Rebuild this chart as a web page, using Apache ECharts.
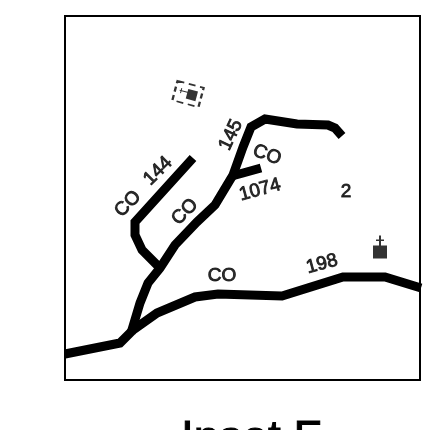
<!DOCTYPE html>
<html><head><meta charset="utf-8">
<style>html,body{margin:0;padding:0;background:#fff;overflow:hidden}#c{width:433px;height:430px}</style>
<script src="https://cdn.jsdelivr.net/npm/echarts@6/dist/echarts.min.js"></script>
</head><body><div id="c"></div>
<script>
// map coordinates: x east, y north, origin at lower-left of inset frame
const mainRoad198 = [[0,26],[55,37],[68,50],[92,67],[130,83],[153,86],[217,84],[278,103],[320,103],[356,92]];
const road145 = [[66,47],[75,77],[83,97],[95,112],[110,135],[132,158],[150,175],[168,205],[178,233],[186,253],[200,261],[232,256],[263,255],[270,252],[277,244]];
const road1074 = [[167,204],[178,207],[196,212]];
const road144 = [[128,222],[70,158],[70,145],[77,130],[95,112]];
const labelTexts = ['CO','144','CO','145','CO','1074','2','CO','198'];
const labelPoints = [[63,176],[93,209],[120,168],[166,245],[202,225],[195,190],[281,188],[157,104],[257,116]];
const labelAngles = [45,45,45,65,-20,15,0,0,15];
const cemeteryPoint = [[315,133]];
const quarryPoint = [[123,286]];
const titleText = 'Inset F';

const roads = [mainRoad198, road145, road1074, road144].map(d => ({
  type:'line', data:d, symbol:'none', silent:true,
  lineStyle:{color:'#000',width:9,cap:'butt',join:'miter'}, z:2
}));
const labels = {
  type:'scatter', symbolSize:0, z:3, silent:true,
  data: labelPoints.map((p,i)=>({
    value:p,
    label:{show:true,position:'inside',formatter:labelTexts[i],rotate:labelAngles[i],
      fontFamily:'Liberation Sans',fontSize:19,fontWeight:'normal',color:'#000',textBorderColor:'#000',textBorderWidth:0.9,align:'center',verticalAlign:'middle'}
  }))
};
const cemetery = {
  type:'scatter', z:3, silent:true, data:cemeteryPoint,
  symbol:'path://M6 0H8V4H11V5.5H8V10H14V23H0V10H6V5.5H3V4H6Z', symbolSize:[14,23],
  itemStyle:{color:'#000'}
};
const quarryBox = {
  type:'scatter', z:3, silent:true, data:quarryPoint, symbol:'rect', symbolSize:[27,20], symbolRotate:-15,
  itemStyle:{color:'rgba(0,0,0,0)',borderColor:'#000',borderWidth:2,borderType:[6,4]}
};
const quarryIcon = {
  type:'scatter', z:3, silent:true, data:quarryPoint, symbol:'path://M0 3H1V1H2V3H8V0H18V10H8V4H2V6H1V4H0Z', symbolSize:[18,10], symbolRotate:-15,
  itemStyle:{color:'#000'}
};
const chart = echarts.init(document.getElementById('c'),null,{renderer:'canvas'});
chart.setOption({
  animation:false, backgroundColor:'#fff',
  title:{text:titleText,left:176,top:412,textStyle:{fontFamily:'Liberation Sans',fontSize:46,fontWeight:'normal',color:'#000',textBorderColor:'#000',textBorderWidth:1}},
  grid:{left:65,top:16,width:355,height:364,show:true,borderColor:'#000',borderWidth:2,backgroundColor:'#fff'},
  xAxis:{type:'value',min:0,max:355,show:false},
  yAxis:{type:'value',min:0,max:364,show:false},
  series:[...roads,labels,cemetery,quarryBox,quarryIcon]
});
</script></body></html>
